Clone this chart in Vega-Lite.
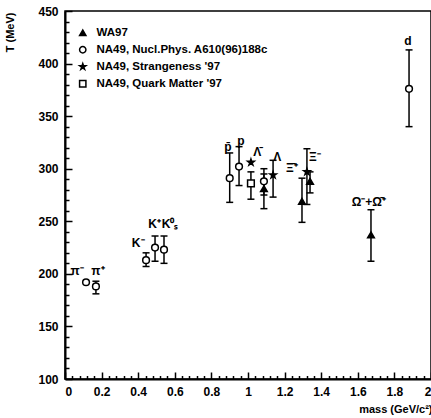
{
  "$schema": "https://vega.github.io/schema/vega-lite/v6.json",
  "width": 366,
  "height": 368,
  "autosize": {"type": "none"},
  "padding": {"left": 65, "top": 11, "right": 0, "bottom": 39},
  "background": "white",
  "config": {
    "view": {"stroke": "black", "strokeWidth": 1.5},
    "font": "Liberation Sans",
    "axis": {
      "domainColor": "black", "domainWidth": 2, "tickColor": "black", "tickWidth": 1.5,
      "labelColor": "black", "labelFontSize": 12, "labelFontWeight": "bold", "labelOverlap": false,
      "grid": false, "titleColor": "black", "titleFontSize": 11, "titleFontWeight": "bold"
    }
  },
  "datasets": {
    "pts": [
      {"particle": "pi-", "src": "NA49, Nucl.Phys. A610(96)188c", "m": 0.115, "T": 192, "lo": null, "hi": null},
      {"particle": "pi+", "src": "NA49, Nucl.Phys. A610(96)188c", "m": 0.169, "T": 188, "lo": 181, "hi": 193},
      {"particle": "K-", "src": "NA49, Nucl.Phys. A610(96)188c", "m": 0.443, "T": 213, "lo": 207, "hi": 220},
      {"particle": "K+", "src": "NA49, Nucl.Phys. A610(96)188c", "m": 0.492, "T": 225, "lo": 212, "hi": 236},
      {"particle": "K0s", "src": "NA49, Nucl.Phys. A610(96)188c", "m": 0.541, "T": 223, "lo": 210, "hi": 236},
      {"particle": "pbar", "src": "NA49, Nucl.Phys. A610(96)188c", "m": 0.90, "T": 291, "lo": 268, "hi": 315},
      {"particle": "p", "src": "NA49, Nucl.Phys. A610(96)188c", "m": 0.951, "T": 302, "lo": 284, "hi": 321},
      {"particle": "Lbar", "src": "NA49, Nucl.Phys. A610(96)188c", "m": 1.087, "T": 288, "lo": 275, "hi": 300},
      {"particle": "d", "src": "NA49, Nucl.Phys. A610(96)188c", "m": 1.88, "T": 376, "lo": 340, "hi": 413},
      {"particle": "p", "src": "NA49, Strangeness '97", "m": 1.016, "T": 306, "lo": null, "hi": null},
      {"particle": "L", "src": "NA49, Strangeness '97", "m": 1.137, "T": 294, "lo": 273, "hi": 308},
      {"particle": "Xi-", "src": "NA49, Strangeness '97", "m": 1.322, "T": 297, "lo": 266, "hi": 319},
      {"particle": "p", "src": "NA49, Quark Matter '97", "m": 1.016, "T": 286, "lo": 271, "hi": 297},
      {"particle": "Lbar", "src": "WA97", "m": 1.087, "T": 281, "lo": 262, "hi": 295},
      {"particle": "Xibar", "src": "WA97", "m": 1.295, "T": 269, "lo": 249, "hi": 291},
      {"particle": "Xi-", "src": "WA97", "m": 1.339, "T": 288, "lo": 277, "hi": 297},
      {"particle": "Omega", "src": "WA97", "m": 1.672, "T": 237, "lo": 212, "hi": 261}
    ],
    "labels": [
      {"label": "π⁻", "m": 0.066, "T": 203},
      {"label": "π⁺", "m": 0.18, "T": 203},
      {"label": "K⁻", "m": 0.40, "T": 229},
      {"label": "K⁺", "m": 0.49, "T": 247},
      {"label": "K⁰ₛ", "m": 0.574, "T": 247},
      {"label": "p̄", "m": 0.89, "T": 321},
      {"label": "p", "m": 0.962, "T": 326},
      {"label": "Λ̄", "m": 1.05, "T": 316},
      {"label": "Λ", "m": 1.16, "T": 311},
      {"label": "Ξ̄⁺", "m": 1.24, "T": 301},
      {"label": "Ξ⁻", "m": 1.366, "T": 311},
      {"label": "Ω⁻+Ω̄⁺", "m": 1.66, "T": 268},
      {"label": "d", "m": 1.874, "T": 421}
    ]
  },
  "encoding": {
    "x": {
      "field": "m", "type": "quantitative", "scale": {"domain": [0, 2]},
      "axis": {
        "values": [0,0.04,0.08,0.12,0.16,0.2,0.24,0.28,0.32,0.36,0.4,0.44,0.48,0.52,0.56,0.6,0.64,0.68,0.72,0.76,0.8,0.84,0.88,0.92,0.96,1,1.04,1.08,1.12,1.16,1.2,1.24,1.28,1.32,1.36,1.4,1.44,1.48,1.52,1.56,1.6,1.64,1.68,1.72,1.76,1.8,1.84,1.88,1.92,1.96,2],
        "labelExpr": "round(datum.value*100) % 20 === 0 ? format(datum.value, '~g') : ''",
        "tickSize": -7,
        "tickDash": {"condition": {"test": "round(datum.value*100) % 20 === 0", "value": [8, 0]}, "value": [3.5, 20]},
        "labelOverlap": false,
        "labelPadding": 14,
        "title": "mass (GeV/c²)", "titleAnchor": "end", "titleAlign": "right",
        "titleX": 367, "titleY": 30, "titleBaseline": "middle"
      }
    }
  },
  "layer": [
    {
      "data": {"name": "pts"},
      "transform": [{"filter": "datum.lo != null"}],
      "mark": {"type": "rule", "color": "black", "strokeWidth": 1.5},
      "encoding": {
        "y": {"field": "lo", "type": "quantitative", "scale": {"domain": [100, 450]},
          "axis": {
            "values": [100,110,120,130,140,150,160,170,180,190,200,210,220,230,240,250,260,270,280,290,300,310,320,330,340,350,360,370,380,390,400,410,420,430,440,450],
            "labelExpr": "datum.value % 50 === 0 ? datum.label : ''",
            "tickSize": -7,
            "tickDash": {"condition": {"test": "datum.value % 50 === 0", "value": [8, 0]}, "value": [4, 20]},
            "labelOverlap": false,
            "labelPadding": 14,
            "title": "T (MeV)", "titleAngle": 270, "titleAlign": "right", "titleBaseline": "middle",
            "titleX": -55, "titleY": 1
          }},
        "y2": {"field": "hi"}
      }
    },
    {
      "data": {"name": "pts"},
      "transform": [{"filter": "datum.lo != null"}, {"fold": ["lo", "hi"], "as": ["end", "v"]}],
      "mark": {"type": "tick", "color": "black", "orient": "horizontal", "size": 7, "thickness": 1.5, "opacity": 1},
      "encoding": {
        "y": {"field": "v", "type": "quantitative",
          "axis": {
            "values": [100,110,120,130,140,150,160,170,180,190,200,210,220,230,240,250,260,270,280,290,300,310,320,330,340,350,360,370,380,390,400,410,420,430,440,450],
            "labelExpr": "datum.value % 50 === 0 ? datum.label : ''",
            "tickSize": -7,
            "tickDash": {"condition": {"test": "datum.value % 50 === 0", "value": [8, 0]}, "value": [4, 20]},
            "labelOverlap": false,
            "labelPadding": 14,
            "title": "T (MeV)", "titleAngle": 270, "titleAlign": "right", "titleBaseline": "middle",
            "titleX": -55, "titleY": 1
          }}
      }
    },
    {
      "data": {"name": "pts"},
      "mark": {"type": "point", "filled": true, "stroke": "black", "strokeWidth": 1.5, "size": 45, "opacity": 1},
      "encoding": {
        "y": {"field": "T", "type": "quantitative",
          "axis": {
            "values": [100,110,120,130,140,150,160,170,180,190,200,210,220,230,240,250,260,270,280,290,300,310,320,330,340,350,360,370,380,390,400,410,420,430,440,450],
            "labelExpr": "datum.value % 50 === 0 ? datum.label : ''",
            "tickSize": -7,
            "tickDash": {"condition": {"test": "datum.value % 50 === 0", "value": [8, 0]}, "value": [4, 20]},
            "labelOverlap": false,
            "labelPadding": 14,
            "title": "T (MeV)", "titleAngle": 270, "titleAlign": "right", "titleBaseline": "middle",
            "titleX": -55, "titleY": 1
          }},
        "shape": {
          "field": "src", "type": "nominal",
          "scale": {"domain": ["WA97", "NA49, Nucl.Phys. A610(96)188c", "NA49, Strangeness '97", "NA49, Quark Matter '97"], "range": ["triangle-up", "circle", "M0,-1L0.224,-0.309L0.951,-0.309L0.363,0.118L0.588,0.809L0,0.382L-0.588,0.809L-0.363,0.118L-0.951,-0.309L-0.224,-0.309Z", "square"]},
          "legend": {
            "title": null, "orient": "none", "legendX": 12, "legendY": 16,
            "labelFontSize": 11.5, "labelFontWeight": "bold", "labelColor": "black", "labelFont": "Liberation Sans", "labelLimit": 400,
            "symbolSize": 40, "rowPadding": 4, "labelOffset": 8,
            "encode": {"symbols": {"update": {"stroke": {"value": "black"}, "strokeWidth": {"value": 1.5}}}}
          }
        },
        "fill": {
          "field": "src", "type": "nominal",
          "scale": {"domain": ["WA97", "NA49, Nucl.Phys. A610(96)188c", "NA49, Strangeness '97", "NA49, Quark Matter '97"], "range": ["black", "white", "black", "white"]},
          "legend": {
            "title": null, "orient": "none", "legendX": 12, "legendY": 16,
            "labelFontSize": 11.5, "labelFontWeight": "bold", "labelColor": "black", "labelFont": "Liberation Sans", "labelLimit": 400,
            "symbolSize": 40, "rowPadding": 4, "labelOffset": 8,
            "encode": {"symbols": {"update": {"stroke": {"value": "black"}, "strokeWidth": {"value": 1.5}}}}
          }
        }
      }
    },
    {
      "data": {"name": "labels"},
      "mark": {"type": "text", "fontWeight": "bold", "fontSize": 12, "color": "black", "baseline": "middle", "align": "center"},
      "encoding": {
        "y": {"field": "T", "type": "quantitative",
          "axis": {
            "values": [100,110,120,130,140,150,160,170,180,190,200,210,220,230,240,250,260,270,280,290,300,310,320,330,340,350,360,370,380,390,400,410,420,430,440,450],
            "labelExpr": "datum.value % 50 === 0 ? datum.label : ''",
            "tickSize": -7,
            "tickDash": {"condition": {"test": "datum.value % 50 === 0", "value": [8, 0]}, "value": [4, 20]},
            "labelOverlap": false,
            "labelPadding": 14,
            "title": "T (MeV)", "titleAngle": 270, "titleAlign": "right", "titleBaseline": "middle",
            "titleX": -55, "titleY": 1
          }},
        "text": {"field": "label"}
      }
    }
  ]
}
